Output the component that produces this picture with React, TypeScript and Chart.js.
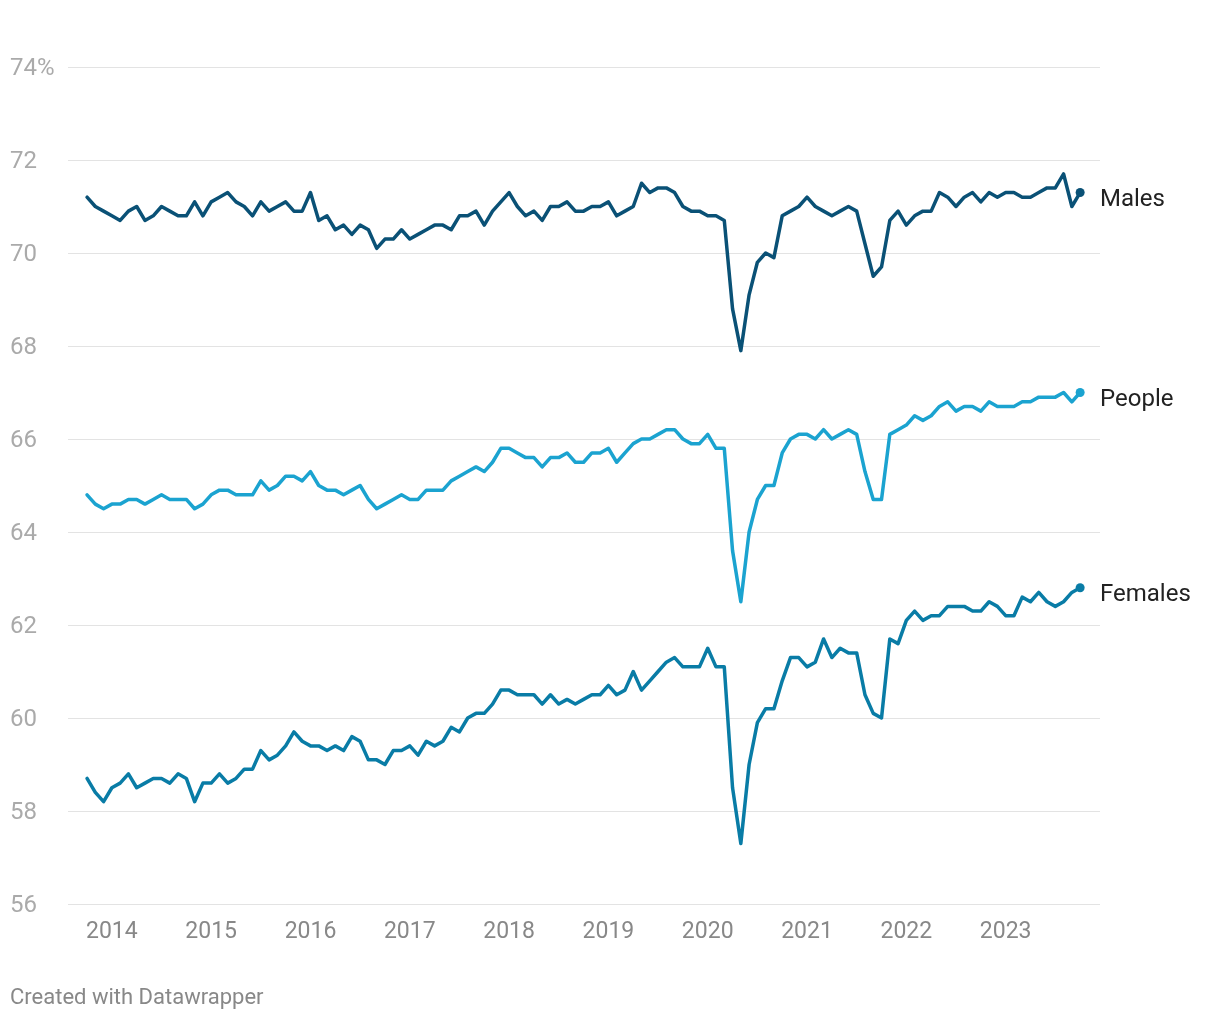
import React, { useEffect, useRef } from "react";
import { Chart, registerables } from "chart.js";

Chart.register(...registerables);

// Monthly, Oct 2013 – Oct 2023 (index 0 = Oct 2013)
const males = [
  71.2, 71.0, 70.9, 70.8, 70.7, 70.9, 71.0, 70.7, 70.8, 71.0, 70.9, 70.8, 70.8, 71.1, 70.8, 71.1, 71.2, 71.3, 71.1, 71.0, 70.8, 71.1, 70.9, 71.0, 71.1, 70.9, 70.9, 71.3, 70.7, 70.8, 70.5, 70.6,
  70.4, 70.6, 70.5, 70.1, 70.3, 70.3, 70.5, 70.3, 70.4, 70.5, 70.6, 70.6, 70.5, 70.8, 70.8, 70.9, 70.6, 70.9, 71.1, 71.3, 71.0, 70.8, 70.9, 70.7, 71.0, 71.0, 71.1, 70.9, 70.9, 71.0, 71.0, 71.1,
  70.8, 70.9, 71.0, 71.5, 71.3, 71.4, 71.4, 71.3, 71.0, 70.9, 70.9, 70.8, 70.8, 70.7, 68.8, 67.9, 69.1, 69.8, 70.0, 69.9, 70.8, 70.9, 71.0, 71.2, 71.0, 70.9, 70.8, 70.9, 71.0, 70.9, 70.2, 69.5, 69.7,
  70.7, 70.9, 70.6, 70.8, 70.9, 70.9, 71.3, 71.2, 71.0, 71.2, 71.3, 71.1, 71.3, 71.2, 71.3, 71.3, 71.2, 71.2, 71.3, 71.4, 71.4, 71.7, 71.0, 71.3,
];

const people = [
  64.8, 64.6, 64.5, 64.6, 64.6, 64.7, 64.7, 64.6, 64.7, 64.8, 64.7, 64.7, 64.7, 64.5, 64.6, 64.8, 64.9, 64.9, 64.8, 64.8, 64.8, 65.1, 64.9, 65.0, 65.2, 65.2, 65.1, 65.3, 65.0, 64.9, 64.9, 64.8,
  64.9, 65.0, 64.7, 64.5, 64.6, 64.7, 64.8, 64.7, 64.7, 64.9, 64.9, 64.9, 65.1, 65.2, 65.3, 65.4, 65.3, 65.5, 65.8, 65.8, 65.7, 65.6, 65.6, 65.4, 65.6, 65.6, 65.7, 65.5, 65.5, 65.7, 65.7, 65.8,
  65.5, 65.7, 65.9, 66.0, 66.0, 66.1, 66.2, 66.2, 66.0, 65.9, 65.9, 66.1, 65.8, 65.8, 63.6, 62.5, 64.0, 64.7, 65.0, 65.0, 65.7, 66.0, 66.1, 66.1, 66.0, 66.2, 66.0, 66.1, 66.2, 66.1, 65.3, 64.7, 64.7,
  66.1, 66.2, 66.3, 66.5, 66.4, 66.5, 66.7, 66.8, 66.6, 66.7, 66.7, 66.6, 66.8, 66.7, 66.7, 66.7, 66.8, 66.8, 66.9, 66.9, 66.9, 67.0, 66.8, 67.0,
];

const females = [
  58.7, 58.4, 58.2, 58.5, 58.6, 58.8, 58.5, 58.6, 58.7, 58.7, 58.6, 58.8, 58.7, 58.2, 58.6, 58.6, 58.8, 58.6, 58.7, 58.9, 58.9, 59.3, 59.1, 59.2, 59.4, 59.7, 59.5, 59.4, 59.4, 59.3, 59.4, 59.3,
  59.6, 59.5, 59.1, 59.1, 59.0, 59.3, 59.3, 59.4, 59.2, 59.5, 59.4, 59.5, 59.8, 59.7, 60.0, 60.1, 60.1, 60.3, 60.6, 60.6, 60.5, 60.5, 60.5, 60.3, 60.5, 60.3, 60.4, 60.3, 60.4, 60.5, 60.5, 60.7,
  60.5, 60.6, 61.0, 60.6, 60.8, 61.0, 61.2, 61.3, 61.1, 61.1, 61.1, 61.5, 61.1, 61.1, 58.5, 57.3, 59.0, 59.9, 60.2, 60.2, 60.8, 61.3, 61.3, 61.1, 61.2, 61.7, 61.3, 61.5, 61.4, 61.4, 60.5, 60.1, 60.0,
  61.7, 61.6, 62.1, 62.3, 62.1, 62.2, 62.2, 62.4, 62.4, 62.4, 62.3, 62.3, 62.5, 62.4, 62.2, 62.2, 62.6, 62.5, 62.7, 62.5, 62.4, 62.5, 62.7, 62.8,
];

const seriesNames = ["Males", "People", "Females"];
const seriesColors = ["#0a5176", "#1ba3d0", "#097ca6"];

// x tick positions: January of each year (index from Oct 2013)
const yearTickIndex = [3, 15, 27, 39, 51, 63, 75, 87, 99, 111];
const yearLabels = ["2014", "2015", "2016", "2017", "2018", "2019", "2020", "2021", "2022", "2023"];

const yTicks = [56, 58, 60, 62, 64, 66, 68, 70, 72, 74];

const FONT = "Roboto, 'Noto Sans', sans-serif";

export default function App() {
  const ref = useRef<HTMLCanvasElement | null>(null);

  useEffect(() => {
    const canvas = ref.current;
    if (!canvas) return;
    const all = [males, people, females];

    const endLabels = {
      id: "endLabels",
      afterDatasetsDraw(chart: any) {
        const ctx = chart.ctx;
        ctx.save();
        ctx.font = `24px ${FONT}`;
        ctx.fillStyle = "#222";
        ctx.textAlign = "left";
        ctx.textBaseline = "middle";
        chart.data.datasets.forEach((ds: any, i: number) => {
          const meta = chart.getDatasetMeta(i);
          const pt = meta.data[meta.data.length - 1];
          ctx.fillText(seriesNames[i], chart.chartArea.right, pt.y + 7);
        });
        ctx.font = `22px ${FONT}`;
        ctx.fillStyle = "#888";
        ctx.textBaseline = "middle";
        ctx.fillText("Created with Datawrapper", 2, 990);
        ctx.restore();
      },
    };

    const chart = new Chart(canvas, {
      type: "line",
      data: {
        datasets: all.map((arr, i) => ({
          label: seriesNames[i],
          data: arr.map((v, j) => ({ x: j, y: v })),
          borderColor: seriesColors[i],
          backgroundColor: seriesColors[i],
          borderWidth: 3.5,
          pointRadius: arr.map((_, j) => (j === arr.length - 1 ? 4.5 : 0)),
          pointBorderWidth: 0,
          tension: 0,
          borderJoinStyle: "round" as const,
          borderCapStyle: "round" as const,
        })),
      },
      options: {
        animation: false,
        responsive: false,
        maintainAspectRatio: false,
        layout: { padding: { left: 2, right: 112, top: 59, bottom: 58 } },
        plugins: {
          legend: { display: false },
          tooltip: { enabled: false },
        },
        scales: {
          x: {
            type: "linear",
            min: -2.3,
            max: 122.4,
            grid: { display: false, drawTicks: false },
            border: { display: false },
            afterBuildTicks: (scale: any) => {
              scale.ticks = yearTickIndex.map((v) => ({ value: v }));
            },
            afterFit: (scale: any) => {
              scale.height = 50;
            },
            ticks: {
              autoSkip: false,
              maxRotation: 0,
              padding: 14,
              color: "#888",
              font: { family: FONT, size: 23 },
              callback: (v: any) => {
                const k = yearTickIndex.indexOf(Number(v));
                return k >= 0 ? yearLabels[k] : "";
              },
            },
          },
          y: {
            min: 56,
            max: 74,
            afterBuildTicks: (scale: any) => {
              scale.ticks = yTicks.map((v) => ({ value: v }));
            },
            afterFit: (scale: any) => {
              scale.width = 58;
            },
            grid: {
              color: "#e3e3e3",
              lineWidth: 1,
              drawTicks: false,
            },
            border: { display: false },
            ticks: {
              crossAlign: "far",
              padding: 0,
              labelOffset: 2,
              color: "#aaa",
              font: { family: FONT, size: 24 },
              callback: (v: any) => (Number(v) === 74 ? "74%" : String(v)),
            },
          },
        },
      },
      plugins: [endLabels],
    });

    return () => chart.destroy();
  }, []);

  return (
    <div style={{ width: 1204, height: 1004 }}>
      <canvas ref={ref} width={1204} height={1004} style={{ display: "block", width: 1204, height: 1004 }} />
    </div>
  );
}
